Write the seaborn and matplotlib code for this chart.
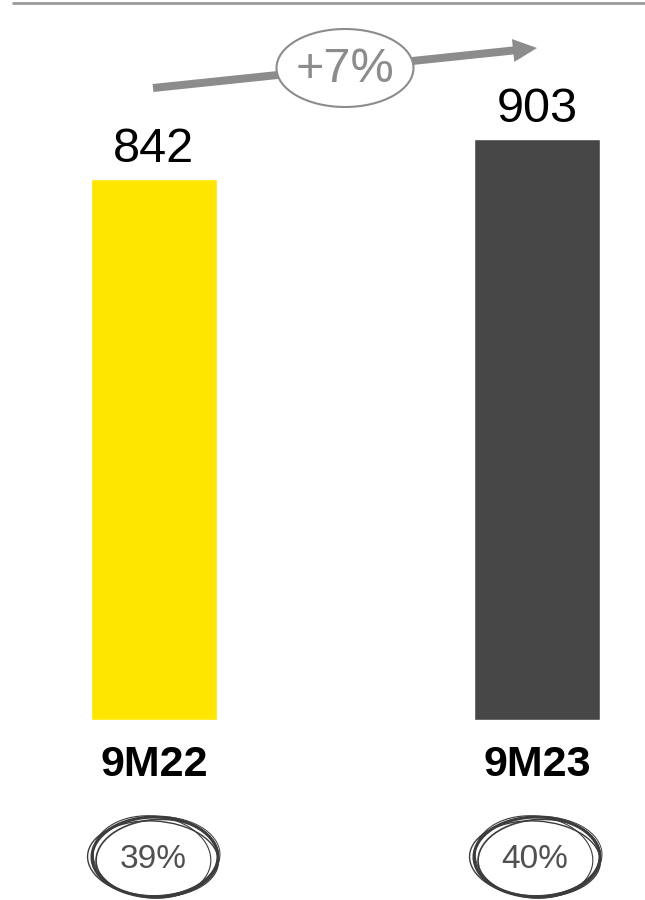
import matplotlib
matplotlib.use("Agg")
import matplotlib.pyplot as plt
from matplotlib.patches import Ellipse, FancyArrow
import seaborn as sns

# Nine-month figures
periods = ["9M22", "9M23"]
values = [842, 903]
shares = [39, 40]
bar_colors = ["#FFE600", "#474747"]

sns.set_style("white")
plt.rcParams["font.family"] = ["Liberation Sans", "DejaVu Sans"]

fig = plt.figure(figsize=(6.45, 9), dpi=100)

# Main bar axes: spans the full width, baseline 180 px above the bottom edge
ax = fig.add_axes([0, 0.2, 1, 0.8])
sns.barplot(x=periods, y=values, hue=periods, palette=bar_colors,
            width=0.329, saturation=1, legend=False, ax=ax)
ax.set_xlim(-0.402, 1.282)
ax.set_ylim(0, 1119.8)
for s in ax.spines.values():
    s.set_visible(False)
ax.set_yticks([])
ax.set_xlabel("")
ax.set_ylabel("")
ax.tick_params(axis="x", length=0, pad=18)
for lab in ax.get_xticklabels():
    lab.set_fontsize(31)
    lab.set_fontweight("bold")
    lab.set_color("black")

# Value labels above bars
for i, v in enumerate(values):
    ax.annotate(f"{v}", xy=(i, v), xytext=(0, 12.2), textcoords="offset points",
                ha="center", va="baseline", fontsize=35, color="black")

# Overlay in pixel units for the decorations
ov = fig.add_axes([0, 0, 1, 1])
ov.set_xlim(0, 645)
ov.set_ylim(900, 0)
ov.axis("off")

# Thin rule along the top
ov.plot([12, 645], [3, 3], color="#9a9a9a", lw=2, solid_capstyle="butt")

# Growth arrow with the percentage badge
growth = round((values[1] / values[0] - 1) * 100)
x0, y0, x1, y1 = 153, 88, 537, 48
ov.add_patch(FancyArrow(x0, y0, x1 - x0, y1 - y0, width=8, head_width=23,
                        head_length=24, length_includes_head=True,
                        color="#8c8c8c", lw=0, zorder=2))
ov.add_patch(Ellipse((345, 68), 137, 78, facecolor="white",
                     edgecolor="#8c8c8c", lw=1.5, zorder=3))
ov.text(345, 70, f"+{growth}%", ha="center", va="center", fontsize=35,
        color="#8c8c8c", zorder=4)

# Hand-drawn style rings around the share figures
strokes = [(126, 80, 0, 0, 0, 2.2), (122, 77, -4, 2, 1, 1.2),
           (131, 76, 3, -2, 2, 1.0), (118, 82, 6, -3, 0, 0.8),
           (128, 79, -2, 1, -1, 0.7)]
centers = [155, 537]
for cx, sh in zip(centers, shares):
    for w, h, ang, dx, dy, lw in strokes:
        ov.add_patch(Ellipse((cx + dx, 857 + dy), w, h, angle=ang,
                             fill=False, edgecolor="#3c3c3c", lw=lw))
    ov.text(cx - 2, 860, f"{sh}%", ha="center", va="center", fontsize=24,
            color="#505050")

fig.savefig("out.png", dpi=100)
